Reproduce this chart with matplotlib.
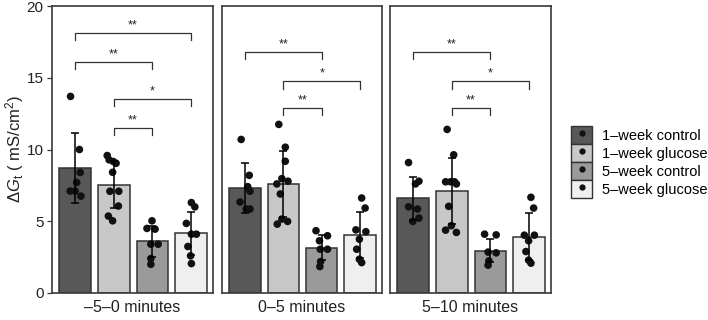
import matplotlib
matplotlib.use('Agg')
import matplotlib.pyplot as plt
from matplotlib.patches import Patch
from matplotlib.lines import Line2D

plt.rcParams['font.family'] = ['Liberation Sans', 'DejaVu Sans']
plt.rcParams['mathtext.fontset'] = 'custom'
plt.rcParams['mathtext.rm'] = 'Liberation Sans'
plt.rcParams['mathtext.it'] = 'Liberation Sans:italic'

# ---------------- data ----------------
periods = ['\u20135\u20130 minutes', '0\u20135 minutes', '5\u201310 minutes']
groups = ['1\u2013week control', '1\u2013week glucose', '5\u2013week control', '5\u2013week glucose']
colors = ['#585858', '#c8c8c8', '#9a9a9a', '#efefef']

means_p1 = [8.70, 7.55, 3.60, 4.15]
means_p2 = [7.32, 7.60, 3.17, 4.03]
means_p3 = [6.60, 7.11, 2.95, 3.92]
sds_p1 = [2.45, 1.65, 1.10, 1.50]
sds_p2 = [1.75, 2.30, 0.88, 1.60]
sds_p3 = [1.50, 2.28, 0.80, 1.63]

# individual observations per group (panel -> group -> values)
points_p1 = [
    [13.7, 10.0, 8.4, 7.7, 7.1, 7.1, 6.75],
    [9.58, 9.28, 9.16, 9.04, 8.41, 7.09, 7.09, 6.06, 5.36, 5.03],
    [5.03, 4.5, 4.45, 3.4, 3.4, 2.4, 2.0],
    [6.3, 6.0, 4.85, 4.1, 4.1, 3.24, 2.59, 2.05],
]
points_p2 = [
    [10.7, 8.2, 7.41, 7.09, 6.34, 5.85, 5.85],
    [11.75, 10.16, 9.18, 7.97, 7.79, 7.6, 6.9, 5.15, 4.99, 4.8],
    [4.34, 3.99, 3.64, 3.05, 3.05, 2.19, 1.84],
    [6.62, 5.92, 4.4, 4.27, 3.75, 3.05, 2.35, 2.12],
]
points_p3 = [
    [9.09, 7.79, 7.6, 6.01, 5.85, 5.22, 4.99],
    [11.4, 9.63, 7.75, 7.75, 7.75, 7.6, 6.04, 4.69, 4.38, 4.22],
    [4.1, 4.05, 2.85, 2.8, 2.24, 1.94],
    [6.67, 5.92, 4.03, 4.03, 3.64, 2.89, 2.29, 2.08],
]
# horizontal jitter (in bar-spacing units)
jitter_p1 = [
    [-0.12, 0.11, 0.13, 0.04, -0.13, 0.0, 0.15],
    [-0.17, -0.12, -0.01, 0.06, -0.03, -0.10, 0.13, 0.12, -0.14, -0.03],
    [-0.01, -0.14, 0.07, -0.04, 0.15, -0.04, -0.04],
    [0.01, 0.10, -0.12, 0.01, 0.14, -0.08, -0.01, 0.01],
]
jitter_p2 = [
    [-0.10, 0.11, 0.07, 0.13, -0.13, 0.03, 0.13],
    [-0.12, 0.05, 0.05, -0.04, 0.12, -0.17, -0.08, -0.04, 0.11, -0.16],
    [-0.15, 0.15, -0.06, -0.04, 0.15, -0.03, -0.05],
    [0.04, 0.13, -0.11, 0.15, -0.02, -0.09, -0.02, 0.04],
]
jitter_p3 = [
    [-0.12, 0.15, 0.06, -0.12, 0.11, 0.15, -0.01],
    [-0.12, 0.05, -0.16, -0.03, 0.07, 0.12, -0.08, -0.01, -0.16, 0.12],
    [-0.15, 0.15, -0.06, 0.15, -0.04, -0.06],
    [0.05, 0.12, -0.12, 0.14, -0.01, -0.08, -0.01, 0.05],
]
# significance brackets: (group a, group b, height, label)
brackets_p1 = [(0, 3, 18.1, '**'), (0, 2, 16.1, '**'), (1, 3, 13.5, '*'), (1, 2, 11.5, '**')]
brackets_p2 = [(0, 2, 16.8, '**'), (1, 3, 14.75, '*'), (1, 2, 12.9, '**')]
brackets_p3 = [(0, 2, 16.8, '**'), (1, 3, 14.75, '*'), (1, 2, 12.9, '**')]

means = [means_p1, means_p2, means_p3]
sds = [sds_p1, sds_p2, sds_p3]
points = [points_p1, points_p2, points_p3]
jitter = [jitter_p1, jitter_p2, jitter_p3]
brackets = [brackets_p1, brackets_p2, brackets_p3]

# ---------------- figure ----------------
W, H = 708, 320
fig = plt.figure(figsize=(W / 100, H / 100), dpi=100)
panel_px = [(52, 213), (222, 382), (390, 551)]
top_px, bot_px = 6, 293
edge = '#333333'

axes = []
for i, (x0, x1) in enumerate(panel_px):
    ax = fig.add_axes([x0 / W, (H - bot_px) / H, (x1 - x0) / W, (bot_px - top_px) / H])
    axes.append(ax)
    xs = list(range(len(groups)))
    ax.bar(xs, means[i], width=0.82, color=colors, edgecolor=edge, linewidth=1.1, zorder=2)
    ax.errorbar(xs, means[i], yerr=sds[i], fmt='none', ecolor='black', elinewidth=1.1,
                capsize=3, capthick=1.1, zorder=4)
    for g in range(len(groups)):
        px = [g + j for j in jitter[i][g]]
        ax.scatter(px, points[i][g], s=30, color='#111111', edgecolor='none', zorder=3)
    for a, b, h, lab in brackets[i]:
        ax.plot([a, a, b, b], [h - 0.5, h, h, h - 0.5], color=edge, lw=0.9, zorder=5)
        ax.text((a + b) / 2, h + 0.12, lab, ha='center', va='bottom', fontsize=9, color='#222222')
    ax.set_xlim(-0.6, 3.57)
    ax.set_ylim(0, 20)
    ax.set_xticks([])
    ax.set_xlabel(periods[i], fontsize=11.5, labelpad=5, color='#222222')
    for s in ax.spines.values():
        s.set_color('#3a3a3a')
        s.set_linewidth(1.2)
    if i == 0:
        ax.set_yticks([0, 5, 10, 15, 20])
        ax.tick_params(axis='y', direction='out', length=3.5, width=0.9, labelsize=11,
                       colors='#3a3a3a', labelcolor='#222222', pad=2.5)
        ax.set_ylabel(r'$\Delta G_{\mathrm{t}}$ ( mS/cm$^{2}$)', fontsize=12, labelpad=0.5,
                      color='#222222')
    else:
        ax.set_yticks([])

handles = [(Patch(facecolor=c, edgecolor=edge, linewidth=1.0),
            Line2D([], [], marker='o', ls='', color='#111111', markersize=3.5))
           for c in colors]
fig.legend(handles, groups, loc='center left', bbox_to_anchor=(571 / W, (H - 162) / H),
           frameon=False, fontsize=10.5, handlelength=1.45, handleheight=1.45,
           labelspacing=0.05, handletextpad=0.7, borderpad=0, borderaxespad=0)

fig.savefig('out.png', dpi=100)
